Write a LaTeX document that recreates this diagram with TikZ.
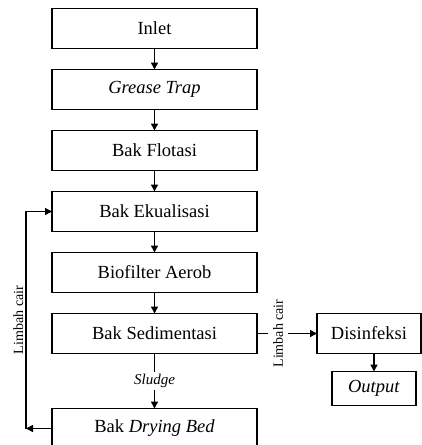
\documentclass[tikz,border=0pt]{standalone}
\usepackage{fontspec}
\setmainfont{Liberation Serif}
\usepackage{tikz}
\usetikzlibrary{arrows.meta, positioning}

\begin{document}
\begin{tikzpicture}[line width=1.4pt,
    font=\fontsize{18.5}{22}\selectfont, >={Triangle[length=7pt, width=7pt]},
    node distance=21pt,
    unit/.style={draw, minimum width=205pt, minimum height=40pt, outer sep=0pt},
    sidebox/.style={draw, minimum width=104pt, minimum height=40pt, outer sep=0pt},
    lbl/.style={font=\fontsize{14}{16}\selectfont, fill=white}]
    \useasboundingbox (0pt,0pt) rectangle (422pt,-445pt);
    \node[unit] (inlet) at (154.5pt,-28.5pt) {Inlet};
    \node[unit, below=of inlet] (grease) {\textit{Grease Trap}};
    \node[unit, below=of grease] (flot) {Bak Flotasi};
    \node[unit, below=of flot] (ekual) {Bak Ekualisasi};
    \node[unit, below=of ekual] (biof) {Biofilter Aerob};
    \node[unit, below=of biof] (sedi) {Bak Sedimentasi};
    \node[unit, below=55pt of sedi] (dry) {Bak \textit{Drying Bed}};
    \node[sidebox, right=60pt of sedi] (disinf) {Disinfeksi};
    \node[draw, minimum width=84pt, minimum height=34pt, outer sep=0pt, below=18pt of disinf, xshift=5pt] (outp) {\textit{Output}};
    \draw[->] (inlet) -- (grease);
    \draw[->] (grease) -- (flot);
    \draw[->] (flot) -- (ekual);
    \draw[->] (ekual) -- (biof);
    \draw[->] (biof) -- (sedi);
    \draw[->] (sedi) -- node[lbl, font=\fontsize{15}{17}\selectfont\itshape, inner sep=2pt]{Sludge} (dry);
    \draw[->] (sedi) -- node[lbl, pos=0.35, rotate=90, inner xsep=1pt, inner ysep=5pt]{Limbah cair} (disinf);
    \draw[->] (disinf.south -| outp.north) -- (outp);
    % loop back from drying bed
    \coordinate[left=26pt of dry.west] (lc);
    \draw[->] (dry.west) -- (lc);
    \draw[->] (lc) -- node[sloped, above, font=\fontsize{14}{16}\selectfont, inner sep=2pt]{Limbah cair} (lc |- ekual.west) -- (ekual.west);
\end{tikzpicture}
\end{document}
